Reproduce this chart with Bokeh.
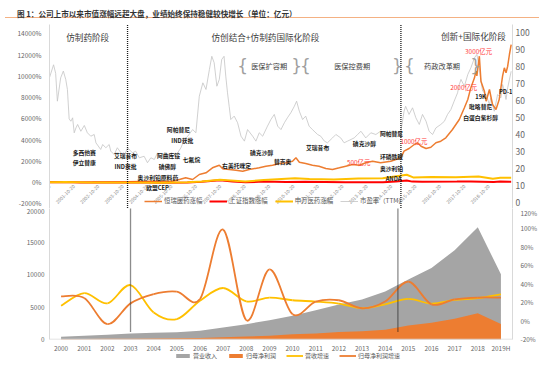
import pandas as pd
from bokeh.plotting import figure
from bokeh.models import (Range1d, LinearAxis, FixedTicker, PrintfTickFormatter,
                          Legend, LegendItem, Div)
from bokeh.layouts import column
from bokeh.core.properties import value
from bokeh.embed import file_html
from bokeh.resources import INLINE

CJK = "Noto Sans CJK SC"

# ---------------- top chart data ----------------
pe_dates = ["2000-10-20","2000-12-20","2001-01-20","2001-02-15","2001-04-05","2001-05-15","2001-06-20","2001-07-15","2001-08-10","2001-09-05",
            "2001-10-01","2001-10-25","2001-11-20","2001-12-15","2002-02-01","2002-03-25","2002-05-10","2002-06-30","2002-08-20","2002-09-15",
            "2002-11-25","2002-12-25","2003-02-10","2003-04-01","2003-04-25","2003-06-15","2003-08-01","2003-09-25","2003-11-10","2004-01-01",
            "2004-03-15","2004-05-01","2004-06-25","2004-09-05","2004-10-25","2004-12-15","2005-02-05","2005-03-25","2005-05-15","2005-07-05",
            "2005-09-15","2005-11-05","2006-01-20","2006-03-10","2006-05-01","2006-06-20","2006-09-01","2006-10-20","2006-12-10","2007-02-01",
            "2007-03-20","2007-05-10","2007-06-15","2007-07-20","2007-08-30","2007-10-05","2007-11-10","2007-12-15","2008-01-10","2008-02-05",
            "2008-03-01","2008-03-25","2008-05-15","2008-07-05","2008-08-25","2008-10-15","2008-12-01","2009-02-15","2009-04-05","2009-05-25",
            "2009-07-15","2009-09-25","2009-11-15","2010-01-05","2010-02-25","2010-04-15","2010-06-05","2010-07-20","2010-09-10","2010-11-01",
            "2010-12-05","2011-01-15","2011-03-05","2011-04-20","2011-06-10","2011-07-30","2011-10-15","2011-12-01","2012-01-25","2012-03-10",
            "2012-05-25","2012-07-15","2012-09-25","2012-11-15","2013-01-05","2013-04-15","2013-06-05","2013-07-25","2013-10-05","2013-12-20",
            "2014-03-05","2014-05-15","2014-08-25","2014-11-10","2015-01-20","2015-03-15","2015-05-01","2015-05-25","2015-07-15","2015-09-05",
            "2015-10-25","2015-12-15","2016-02-01","2016-03-25","2016-05-10","2016-07-01","2016-08-20","2016-11-01","2016-12-25","2017-02-10",
            "2017-04-01","2017-05-20","2017-07-10","2017-08-05","2017-08-30","2017-10-20","2017-12-10","2018-01-25","2018-03-20","2018-04-25",
            "2018-06-01","2018-06-25","2018-07-20","2018-09-10","2018-10-30","2018-11-20","2019-01-10","2019-03-01","2019-04-20","2019-05-15",
            "2019-06-10","2019-07-05","2019-07-30","2019-09-20"]
pe_values = [73.5, 81, 76, 59.6, 73.3, 77.3, 72.4, 66.5, 49.2, 47.8,
             49.8, 41, 43.9, 45.9, 41.9, 45.3, 41, 39, 40, 35.1,
             31.2, 34.1, 32.2, 34.1, 30.2, 28.2, 32.2, 29.2, 27.2, 32.2,
             29.2, 30.2, 26.3, 27.2, 23.4, 26.3, 25.3, 29.2, 27.2, 29.2,
             28.2, 27.2, 29.2, 32.2, 37.1, 39, 42.9, 41, 62.5, 70.4,
             66.5, 78.2, 86, 82.2, 68.4, 72.4, 84.1, 86, 74.3, 64.5,
             56.6, 48.8, 50.8, 46.9, 39, 36.1, 42.9, 39, 36.1, 41,
             39, 44.9, 48.8, 51.8, 44.9, 42.9, 46.9, 49.8, 52.8, 56.6,
             59.6, 53.7, 48.8, 50.8, 44.9, 42.9, 40, 39, 36.1, 35.1,
             38, 40, 38, 35.1, 36.1, 38, 40, 41.9, 38, 41,
             40, 41.9, 40, 41.9, 41, 41.9, 53.7, 56.6, 51.8, 55.7,
             49.8, 45.9, 51.8, 47.8, 41.9, 40, 43.9, 45.9, 47.8, 51.8,
             54.7, 59.6, 64.5, 69.4, 72.4, 68.4, 75.3, 79.2, 85.1, 87.1,
             79.2, 71.4, 65.5, 63.5, 57.6, 61.6, 53.7, 63.5, 61.6, 69.4,
             65.5, 60.6, 67.5, 77.2]

hr_dates = ["2000-10-20","2002-07-25","2004-01-01","2005-01-10","2005-11-05","2006-02-15","2006-05-20","2006-09-01","2006-12-10","2007-03-20",
            "2007-06-25","2007-10-05","2007-11-25","2008-03-01","2008-06-10","2008-09-20","2008-12-25","2009-05-25","2009-09-01","2009-12-10",
            "2010-03-20","2010-06-25","2010-10-05","2010-11-25","2011-01-15","2011-04-20","2011-07-30","2011-11-05","2012-02-15","2012-05-25",
            "2012-09-05","2012-12-10","2013-03-20","2013-07-01","2013-10-05","2014-01-15","2014-05-15","2014-10-15","2015-03-15","2015-05-01",
            "2015-07-15","2015-10-01","2015-11-20","2016-01-10","2016-03-25","2016-06-05","2016-08-20","2016-11-01","2017-01-15","2017-04-25",
            "2017-08-05","2017-10-20","2017-12-10","2018-01-25","2018-03-20","2018-04-10","2018-04-25","2018-06-01","2018-06-25","2018-08-15",
            "2018-09-10","2018-10-30","2018-12-15","2019-02-05","2019-03-25","2019-05-15","2019-06-10","2019-07-05","2019-07-30","2019-08-25",
            "2019-09-20"]
hr_values = [0, 20, 50, 80, 94, 250, 414, 254, 725, 885,
             1355, 1600, 1261, 1195, 1130, 1035, 1195, 1355, 1506, 1600,
             1760, 1826, 1976, 2296, 1882, 1760, 1600, 1506, 1289, 1195,
             1355, 1506, 1666, 1600, 1826, 1976, 1826, 1976, 2296, 2918,
             3172, 3548, 3708, 3388, 3172, 3294, 3708, 3859, 4179, 4960,
             5901, 7000, 7784, 8900, 9826, 10448, 10000, 11860, 9500, 8565,
             7624, 8725, 7313, 6843, 7784, 10000, 10767, 10297, 10918, 12019,
             12960]

sh_dates = ["2000-10-20","2001-06-15","2002-01-20","2003-01-10","2004-04-10","2005-06-05","2006-06-15","2007-01-15","2007-10-15","2008-04-20",
            "2008-11-01","2009-08-01","2010-06-30","2011-04-15","2012-12-01","2013-06-25","2014-06-20","2014-12-30","2015-06-10","2015-09-01",
            "2016-01-28","2017-06-30","2018-01-25","2019-01-03","2019-04-08","2019-09-20"]
sh_values = [0, 10, -25, -25, -15, -45, -20, 50, 190, 70,
             -15, 55, 20, 45, 0, -5, 0, 55, 155, 55,
             35, 55, 70, 25, 60, 45]

sw_dates = ["2000-10-20","2001-06-15","2002-06-15","2003-06-15","2004-06-15","2005-06-05","2006-06-15","2007-01-15","2007-10-15","2008-10-28",
            "2009-08-01","2010-11-10","2011-06-15","2012-06-15","2013-06-15","2014-06-15","2015-06-10","2015-09-15","2016-06-15","2017-06-15",
            "2018-05-20","2018-12-20","2019-04-10","2019-09-20"]
sw_values = [0, 10, -20, -30, -40, -55, -10, 60, 230, 60,
             200, 380, 300, 260, 350, 380, 700, 450, 480, 460,
             530, 330, 420, 430]

tick_dates = ["2000-10-20","2001-10-20","2002-10-20","2003-10-20","2004-10-20","2005-10-20","2006-10-20",
              "2007-10-20","2008-10-20","2009-10-20","2010-10-20","2011-10-20","2012-10-20","2013-10-20",
              "2014-10-20","2015-10-20","2016-10-20","2017-10-20","2018-10-20"]

phase_text = ["仿制药阶段", "仿创结合+仿制药国际化阶段", "创新+国际化阶段"]
phase_dates = ["2002-05-15", "2009-08-25", "2018-03-05"]
phase_values = [13700, 13700, 13800]

policy_text = ["医保扩容期", "医保控费期", "药政改革期"]
policy_dates = ["2009-10-20", "2013-03-15", "2016-11-20"]
brace_open_dates = ["2008-09-20", "2011-04-15", "2015-07-20"]
brace_close_dates = ["2010-12-05", "2015-01-20", "2018-04-05"]
policy_value = 10950

ann_text = ["多西他赛","伊立替康","艾瑞昔布","IND获批","阿帕替尼","IND获批","阿曲库铵","碘佛醇","七氟烷","奥沙利铂原料药",
            "欧盟CEP","右美托咪定","碘克沙醇","替吉奥","艾瑞昔布","碘克沙醇","阿帕替尼","环磷酰胺","奥沙利铂","ANDA",
            "19K","吡咯替尼","PD-1","白蛋白紫杉醇"]
ann_dates = ["2002-03-25","2002-03-25","2003-12-01","2003-12-01","2006-02-01","2006-03-30","2005-09-05","2005-08-20","2006-08-15","2005-03-30",
             "2005-03-25","2008-06-20","2009-06-30","2010-05-10","2011-10-15","2013-09-15","2014-10-25","2014-10-25","2014-10-25","2014-11-25",
             "2018-06-20","2018-06-20","2019-07-01","2018-06-20"]
ann_values = [2820, 1850, 2510, 1480, 4960, 3920, 2540, 1480, 2090, 470,
              -500, 1570, 2820, 1980, 3240, 3640, 4580, 2390, 1290, 320,
              8090, 7150, 8560, 6060]

mcap_text = ["500亿元", "1000亿元", "2000亿元", "3000亿元"]
mcap_dates = ["2013-06-20", "2015-09-25", "2017-10-10", "2018-05-20"]
mcap_values = [1900, 3860, 8890, 12270]

split_dates = ["2004-01-01", "2015-03-15"]

# ---------------- bottom chart data ----------------
years = ["2000","2001","2002","2003","2004","2005","2006","2007","2008","2009",
         "2010","2011","2012","2013","2014","2015","2016","2017","2018","2019H"]
revenue = [420, 570, 730, 930, 1040, 1140, 1350, 1870, 2380, 3000,
           3700, 4540, 5440, 6200, 7450, 9320, 11090, 13840, 17420, 10100]
profit = [60, 80, 100, 130, 150, 180, 220, 350, 450, 570,
          800, 940, 1180, 1260, 1520, 2170, 2590, 3220, 4070, 2390]
rev_growth = [16.6, 30.4, 19.2, 39.1, 9.4, 2.1, 22.1, 35.9, 21.3, 25.5,
              22.6, 21.2, 19.0, 13.9, 18.2, 24.0, 19.0, 22.9, 24.8, 29.0]
profit_growth = [26.8, 25.0, -3.3, 19.2, 29.3, 31.9, 23.9, 99.3, 1.0, 56.0,
                 7.4, 21.2, 22.6, 13.9, 21.2, 42.8, 18.2, 23.6, 25.5, 25.5]
split_pos = [3, 14.55]

TICK_C = "#666666"
AXIS_C = "#d9d9d9"
GRAY_AREA = "#a5a5a5"
ORANGE = "#ed7d31"
YELLOW = "#ffc000"


def style_axis(ax, font_size, standoff):
    ax.axis_line_color = AXIS_C
    ax.major_tick_line_color = None
    ax.minor_tick_line_color = None
    ax.major_tick_out = 0
    ax.major_tick_in = 0
    ax.minor_tick_out = 0
    ax.minor_tick_in = 0
    ax.major_label_text_color = TICK_C
    ax.major_label_text_font = CJK
    ax.major_label_text_font_size = font_size
    ax.major_label_standoff = standoff


# ---------------- title ----------------
title_div = Div(text=('<div style="width:534px;height:9px;line-height:9px;font-size:7.6px;font-weight:bold;'
                      'color:#333333;font-family:\'Noto Sans CJK SC\';padding-left:12px;'
                      'border-bottom:1px solid #f4b183;white-space:nowrap;">'
                      '图 1：公司上市以来市值涨幅远超大盘，业绩始终保持稳健较快增长（单位：亿元）</div>'),
                width=546, height=10)

# ---------------- top figure ----------------
top = figure(width=546, height=188, x_axis_type="datetime", x_axis_location=None,
             x_range=Range1d(pd.Timestamp("2000-10-20"), pd.Timestamp("2019-10-10")),
             y_range=Range1d(-2476, 14843), output_backend="svg", toolbar_location=None,
             min_border_left=49, min_border_right=34, min_border_top=4, min_border_bottom=0)
top.extra_y_ranges = {"pe": Range1d(-3.53, 104.7)}
top.grid.visible = False
top.outline_line_color = None

ya = top.yaxis[0]
ya.ticker = FixedTicker(ticks=list(range(-2000, 14001, 2000)))
ya.formatter = PrintfTickFormatter(format="%d%%")
ra = LinearAxis(y_range_name="pe", ticker=FixedTicker(ticks=list(range(0, 101, 10))))
top.add_layout(ra, "right")
style_axis(ya, "6.5px", 8)
style_axis(ra, "8.5px", 3)

r_pe = top.line(pd.to_datetime(pe_dates), pe_values, y_range_name="pe", line_color="#c4c4c4", line_width=0.8)
r_hr = top.line(pd.to_datetime(hr_dates), hr_values, line_color=ORANGE, line_width=1.5)
r_sh = top.line(pd.to_datetime(sh_dates), sh_values, line_color="#ff0000", line_width=2)
r_sw = top.line(pd.to_datetime(sw_dates), sw_values, line_color=YELLOW, line_width=2)

top.segment(x0=pd.to_datetime(split_dates), x1=pd.to_datetime(split_dates), y0=-3000, y1=16000,
            line_color="#1a1a1a", line_width=1.3, line_dash="1 1")

top.text(x=pd.to_datetime(tick_dates), y=-300, text=tick_dates, angle=45, angle_units="deg",
         text_align="right", text_baseline="middle", text_font=value(CJK),
         text_font_size="4.8px", text_color="#8c8c8c")

top.text(x=pd.to_datetime(phase_dates), y=phase_values, text=phase_text, text_align="center",
         text_baseline="middle", text_font=value(CJK), text_font_size="8.6px", text_color="#404040")
top.text(x=pd.to_datetime(policy_dates), y=policy_value, text=policy_text, text_align="center",
         text_baseline="middle", text_font=value(CJK), text_font_size="7.2px", text_color="#404040")
top.text(x=pd.to_datetime(brace_open_dates), y=policy_value, text=["{"] * 3, text_align="center",
         text_baseline="middle", text_font=value("DejaVu Sans"), text_font_size="17px", text_color="#a0a0a0")
top.text(x=pd.to_datetime(brace_close_dates), y=policy_value, text=["}"] * 3, text_align="center",
         text_baseline="middle", text_font=value("DejaVu Sans"), text_font_size="17px", text_color="#a0a0a0")
top.text(x=pd.to_datetime(ann_dates), y=ann_values, text=ann_text, text_align="center",
         text_baseline="middle", text_font=value(CJK), text_font_size="5.8px", text_color="#1a1a1a",
         text_font_style="bold")
top.text(x=pd.to_datetime(mcap_dates), y=mcap_values, text=mcap_text, text_align="center",
         text_baseline="middle", text_font=value(CJK), text_font_size="6.4px", text_color="#ff3b3b")

leg_top = Legend(items=[LegendItem(label="恒瑞医药涨幅", renderers=[r_hr]),
                        LegendItem(label="上证指数涨幅", renderers=[r_sh]),
                        LegendItem(label="申万医药涨幅", renderers=[r_sw]),
                        LegendItem(label="市盈率（TTM）", renderers=[r_pe])],
                 orientation="horizontal", location=(95, 3), padding=0, margin=0, spacing=7,
                 glyph_width=18, glyph_height=8, label_height=8, label_standoff=2,
                 label_text_font=CJK, label_text_font_size="6.4px", label_text_color="#595959",
                 background_fill_alpha=0, border_line_color=None)
top.add_layout(leg_top)

# ---------------- bottom figure ----------------
bot = figure(width=546, height=136, x_range=Range1d(-0.5, 19.5), y_range=Range1d(0, 20310),
             output_backend="svg", toolbar_location=None, x_axis_location=None,
             min_border_left=43, min_border_right=29, min_border_top=0, min_border_bottom=5)
bot.extra_y_ranges = {"pct": Range1d(-20, 122.17)}
bot.grid.visible = False
bot.outline_line_color = None

idx = list(range(len(years)))
bot.varea(x=idx, y1=0, y2=revenue, fill_color=GRAY_AREA)
bot.varea(x=idx, y1=0, y2=profit, fill_color=ORANGE)


def smooth(xs, ys):
    n = len(xs)
    seg = {k: [] for k in ("x0", "y0", "x1", "y1", "cx0", "cy0", "cx1", "cy1")}
    for i in range(n - 1):
        xm, ym = (xs[i - 1], ys[i - 1]) if i > 0 else (xs[i], ys[i])
        xp, yp = (xs[i + 2], ys[i + 2]) if i + 2 < n else (xs[i + 1], ys[i + 1])
        seg["x0"].append(xs[i]); seg["y0"].append(ys[i])
        seg["x1"].append(xs[i + 1]); seg["y1"].append(ys[i + 1])
        seg["cx0"].append(xs[i] + (xs[i + 1] - xm) / 6); seg["cy0"].append(ys[i] + (ys[i + 1] - ym) / 6)
        seg["cx1"].append(xs[i + 1] - (xp - xs[i]) / 6); seg["cy1"].append(ys[i + 1] - (yp - ys[i]) / 6)
    return seg


bot.bezier(**smooth(idx, rev_growth), y_range_name="pct", line_color=YELLOW, line_width=1.8)
bot.bezier(**smooth(idx, profit_growth), y_range_name="pct", line_color=ORANGE, line_width=1.8)

bot.segment(x0=split_pos, x1=split_pos, y0=1250, y1=21000, line_color="#1a1a1a", line_width=1.3, line_dash="1 1")
bot.segment(x0=-0.5, x1=19.5, y0=0, y1=0, line_color=AXIS_C, line_width=1.5)

bl = bot.yaxis[0]
bl.ticker = FixedTicker(ticks=[0, 5000, 10000, 15000, 20000])
br = LinearAxis(y_range_name="pct", ticker=FixedTicker(ticks=list(range(-20, 121, 20))),
                formatter=PrintfTickFormatter(format="%d%%"))
bot.add_layout(br, "right")
style_axis(bl, "6.4px", 5)
style_axis(br, "6.4px", 8)

# ---------------- category labels + legend strip for the bottom chart ----------------
strip = figure(width=546, height=16, x_range=Range1d(-0.5, 19.5), y_range=Range1d(0, 1),
               output_backend="svg", toolbar_location=None,
               min_border_left=43, min_border_right=29, min_border_top=0, min_border_bottom=0,
               x_axis_location=None, y_axis_location=None)
strip.extra_y_ranges = {"off": Range1d(-1000, -999)}
strip.grid.visible = False
strip.outline_line_color = None
strip.text(x=idx, y=0.75, text=years, text_align="center", text_baseline="middle",
           text_font=value(CJK), text_font_size="6.4px", text_color=TICK_C)
# same series, drawn outside this strip's visible range so only the legend swatches show
k1 = strip.varea(x=idx, y1=0, y2=revenue, fill_color=GRAY_AREA, y_range_name="off")
k2 = strip.varea(x=idx, y1=0, y2=profit, fill_color=ORANGE, y_range_name="off")
k3 = strip.line(x=idx, y=rev_growth, line_color=YELLOW, line_width=1.8, y_range_name="off")
k4 = strip.line(x=idx, y=profit_growth, line_color=ORANGE, line_width=1.8, y_range_name="off")
leg_bot = Legend(items=[LegendItem(label="营业收入", renderers=[k1]),
                        LegendItem(label="归母净利润", renderers=[k2]),
                        LegendItem(label="营收增速", renderers=[k3]),
                        LegendItem(label="归母净利润增速", renderers=[k4])],
                 orientation="horizontal", location=(125, 0), padding=0, margin=0, spacing=10,
                 glyph_width=17, glyph_height=5, label_height=7, label_standoff=2,
                 label_text_font=CJK, label_text_font_size="6px", label_text_color="#595959",
                 background_fill_alpha=0, border_line_color=None)
strip.add_layout(leg_bot)

band = Div(text='<div style="margin-left:6px;width:540px;height:2px;background:#fbe0cc;"></div>',
           width=546, height=2)

layout = column(title_div, top, bot, strip, band, spacing=0)
open("out.html", "w").write(file_html(layout, INLINE))
